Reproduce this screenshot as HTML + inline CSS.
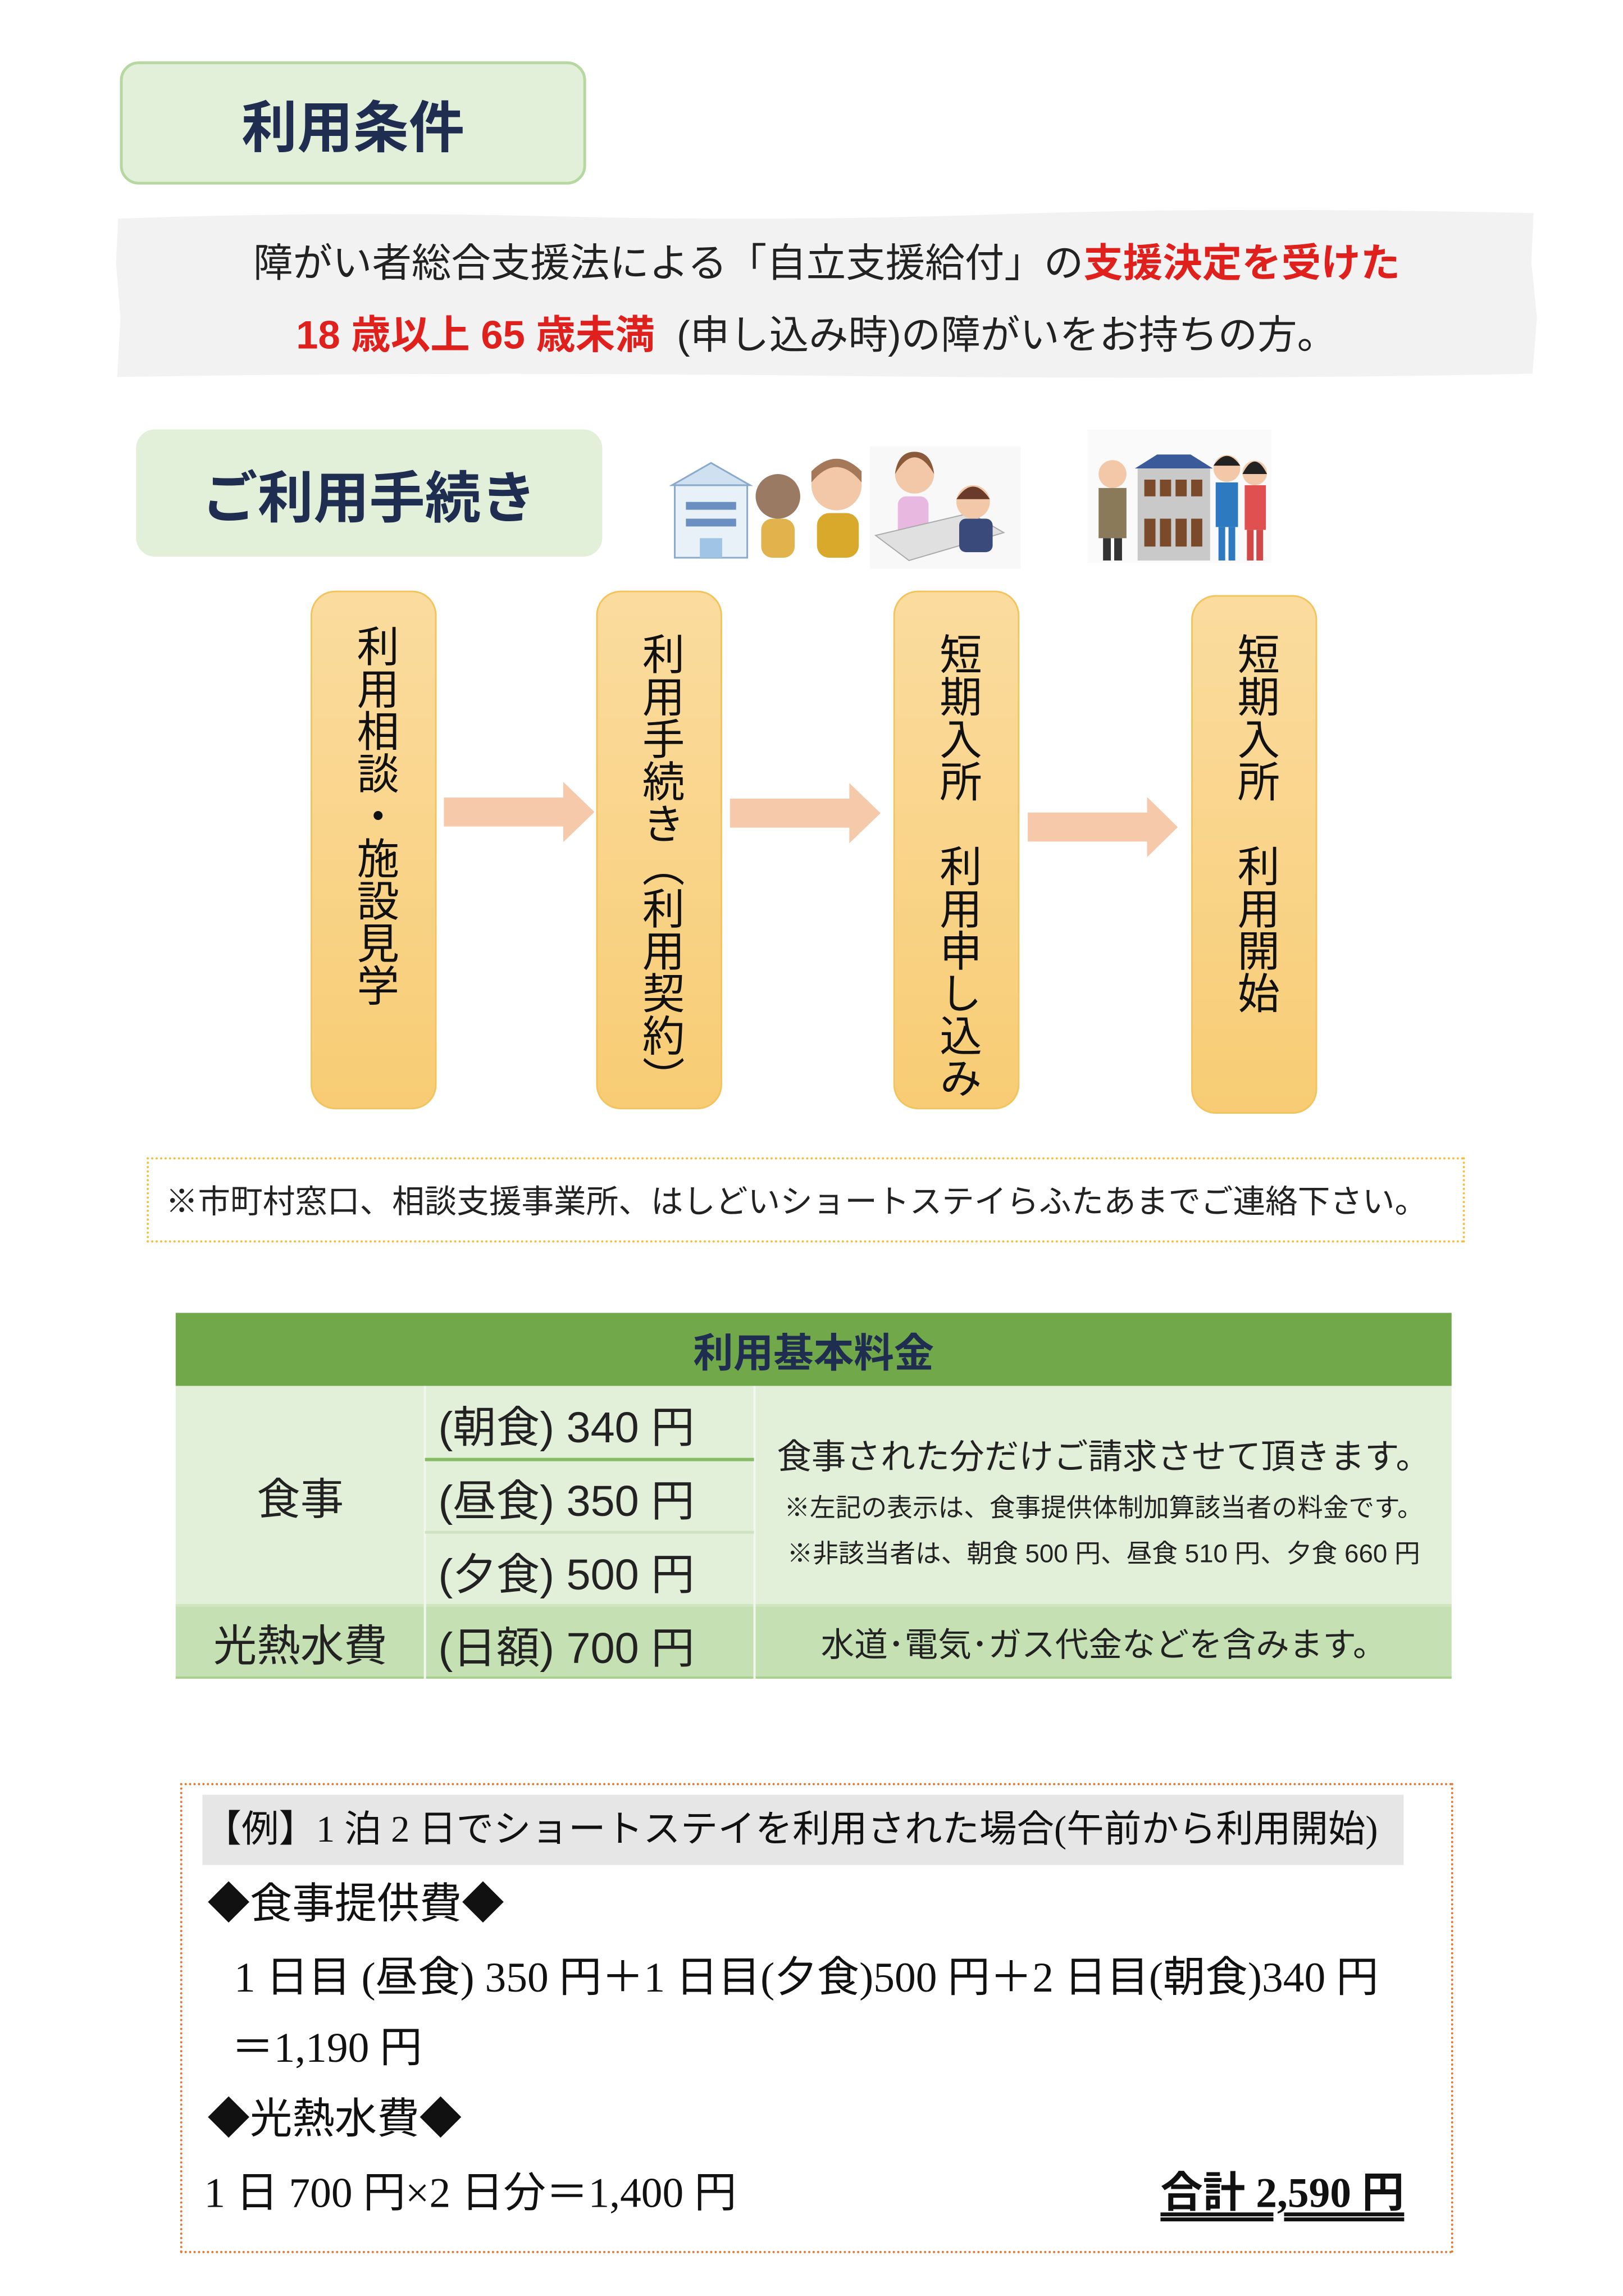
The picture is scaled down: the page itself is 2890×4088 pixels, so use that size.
<!DOCTYPE html>
<html><head><meta charset="utf-8">
<style>
*{margin:0;padding:0;box-sizing:border-box}
body{width:2890px;height:4088px;background:#fff;position:relative;overflow:hidden;font-family:"Liberation Sans","Noto Sans CJK JP",sans-serif;color:#222}
#w{position:absolute;left:0;top:0;width:2890px;height:4088px;transform:scale(0.993);transform-origin:0 0}
.abs{position:absolute}
.c{display:flex;align-items:center;justify-content:center;white-space:nowrap}
.title{background:#e2efd9;border:5px solid #b7d7a0;border-radius:34px;color:#1f2d50;font-weight:bold}
.flow{background:linear-gradient(#fbdc9f,#f7cc74);border:3px solid #f3c45e;border-radius:44px;display:flex;flex-direction:column;align-items:center}
.flow span{writing-mode:vertical-rl;font-size:76px;line-height:1;color:#111;white-space:nowrap}
.cell{position:absolute;display:flex;align-items:center;justify-content:center;white-space:nowrap;color:#222}
.ex{position:absolute;white-space:nowrap;font-family:"Liberation Serif","Noto Sans CJK JP",serif;font-size:76px;color:#111;line-height:1}
</style></head><body><div id="w">

<div class="abs c title" style="left:215px;top:110px;width:836px;height:221px;font-size:100px">利用条件</div>

<svg class="abs" style="left:200px;top:370px" width="2570" height="320">
<path d="M12 22 Q400 8 800 18 T1600 14 T2550 12 L2546 100 L2556 200 L2548 300 Q2000 312 1300 304 T10 306 L16 200 L8 100 Z" fill="#f2f2f2"/>
</svg>
<div class="abs" style="left:454px;top:433px;font-size:71px;white-space:nowrap;line-height:80px;color:#222">障がい者総合支援法による「自立支援給付」の<b style="color:#e0201c">支援決定を受けた</b></div>
<div class="abs" style="left:531px;top:562px;font-size:71px;white-space:nowrap;line-height:80px;color:#222"><b style="color:#e0201c">18 歳以上 65 歳未満</b>&nbsp;&nbsp;(申し込み時)の障がいをお持ちの方。</div>

<div class="abs c title" style="left:244px;top:770px;width:836px;height:228px;font-size:100px;border-color:#e2efd9">ご利用手続き</div>

<svg class="abs" style="left:1200px;top:770px" width="1100" height="250">
<rect x="10" y="100" width="130" height="130" fill="#e8f0f8" stroke="#8aaacc" stroke-width="3"/>
<polygon points="5,100 75,60 145,100" fill="#cfe0f0" stroke="#8aaacc" stroke-width="3"/>
<rect x="30" y="130" width="90" height="14" fill="#6a8fc0"/><rect x="30" y="160" width="90" height="14" fill="#6a8fc0"/><rect x="55" y="195" width="40" height="35" fill="#9fc4e6"/>
<circle cx="195" cy="120" r="40" fill="#9a7a62"/><rect x="165" y="160" width="60" height="70" rx="20" fill="#e2b24c"/>
<circle cx="300" cy="100" r="45" fill="#f2c8a8"/><path d="M255 95 Q300 40 345 95 L345 75 Q300 30 255 75Z" fill="#a5785a"/><rect x="265" y="150" width="75" height="80" rx="22" fill="#d9a92c"/>
<rect x="360" y="30" width="270" height="220" fill="#f8f8f8"/>
<circle cx="440" cy="80" r="35" fill="#f2c8a8"/><path d="M405 80 Q440 20 475 80 Q470 40 440 40 Q410 40 405 80Z" fill="#8a5a3a"/><rect x="410" y="120" width="55" height="80" rx="15" fill="#e8b8e0"/>
<polygon points="370,190 540,150 600,185 430,235" fill="#e0e0e0" stroke="#aaa" stroke-width="2"/>
<circle cx="545" cy="130" r="30" fill="#f2c8a8"/><path d="M515 125 Q545 80 575 125" fill="#6a3a2a"/><rect x="520" y="160" width="60" height="60" rx="12" fill="#3a4a7a"/>
<rect x="750" y="0" width="330" height="240" fill="#fafafa"/>
<circle cx="795" cy="80" r="25" fill="#f2c8a8"/><rect x="770" y="105" width="50" height="90" fill="#8a7a5a"/><rect x="778" y="195" width="14" height="40" fill="#333"/><rect x="798" y="195" width="14" height="40" fill="#333"/>
<polygon points="835,70 875,45 935,45 975,70" fill="#3a5a9a"/><rect x="840" y="70" width="130" height="165" fill="#c9c9c9"/>
<rect x="852" y="90" width="20" height="30" fill="#7a4a2a"/><rect x="880" y="90" width="20" height="30" fill="#7a4a2a"/><rect x="908" y="90" width="20" height="30" fill="#7a4a2a"/><rect x="936" y="90" width="20" height="30" fill="#7a4a2a"/>
<rect x="852" y="160" width="20" height="50" fill="#7a4a2a"/><rect x="880" y="160" width="20" height="50" fill="#7a4a2a"/><rect x="908" y="160" width="20" height="50" fill="#7a4a2a"/><rect x="936" y="160" width="20" height="50" fill="#7a4a2a"/>
<circle cx="1000" cy="70" r="24" fill="#f2c8a8"/><path d="M976 65 Q1000 30 1024 65" fill="#222"/><rect x="980" y="95" width="40" height="80" fill="#2e7ac0"/><rect x="985" y="175" width="12" height="60" fill="#2e7ac0"/><rect x="1003" y="175" width="12" height="60" fill="#2e7ac0"/>
<circle cx="1050" cy="78" r="22" fill="#f2c8a8"/><path d="M1028 80 Q1050 35 1072 80" fill="#222"/><rect x="1032" y="100" width="38" height="80" fill="#e05050"/><rect x="1036" y="180" width="12" height="55" fill="#d04848"/><rect x="1053" y="180" width="12" height="55" fill="#d04848"/>
</svg>

<div class="abs flow" style="left:557px;top:1059px;width:226px;height:930px;padding-top:58px"><span>利用相談・施設見学</span></div>
<div class="abs flow" style="left:1069px;top:1059px;width:226px;height:930px;padding-top:72px"><span>利用手続き（利用契約）</span></div>
<div class="abs flow" style="left:1602px;top:1059px;width:226px;height:930px;padding-top:72px"><span>短期入所　利用申し込み</span></div>
<div class="abs flow" style="left:2136px;top:1067px;width:226px;height:930px;padding-top:64px"><span>短期入所　利用開始</span></div>

<svg class="abs" style="left:0;top:0" width="2890" height="2000">
<polygon points="796,1430 1010,1430 1010,1402 1066,1456 1010,1510 1010,1482 796,1482" fill="#f5c9aa"/>
<polygon points="1309,1432 1523,1432 1523,1404 1579,1458 1523,1512 1523,1484 1309,1484" fill="#f5c9aa"/>
<polygon points="1843,1457 2057,1457 2057,1429 2112,1483 2057,1537 2057,1509 1843,1509" fill="#f5c9aa"/>
</svg>

<div class="abs" style="left:263px;top:2075px;width:2364px;height:153px;border:4px dotted #f0c040"></div>
<div class="abs" style="left:297px;top:2120px;font-size:58px;white-space:nowrap;line-height:70px;color:#222">※市町村窓口、相談支援事業所、はしどいショートステイらふたあまでご連絡下さい。</div>

<div class="cell" style="left:315px;top:2354px;width:2288px;height:131px;background:#70a84a;color:#1f2d50;font-weight:bold;font-size:72px">利用基本料金</div>
<div class="abs" style="left:315px;top:2485px;width:2288px;height:394px;background:#e2efd9"></div>
<div class="abs" style="left:315px;top:2879px;width:2288px;height:131px;background:#c5e0b3"></div>
<div class="abs" style="left:315px;top:3006px;width:2288px;height:4px;background:#a9d18e"></div>
<div class="abs" style="left:315px;top:2876px;width:2288px;height:5px;background:#d0e6c0"></div>
<div class="abs" style="left:760px;top:2485px;width:4px;height:525px;background:#f2f7ee"></div>
<div class="abs" style="left:1351px;top:2485px;width:4px;height:525px;background:#f2f7ee"></div>
<div class="abs" style="left:762px;top:2614px;width:590px;height:6px;background:#88bb66"></div>
<div class="abs" style="left:762px;top:2745px;width:590px;height:5px;background:#cfe3c0"></div>
<div class="cell" style="left:315px;top:2485px;width:447px;height:394px;font-size:78px">食事</div>
<div class="cell" style="left:315px;top:2879px;width:447px;height:131px;font-size:78px">光熱水費</div>
<div class="cell" style="left:762px;top:2488px;width:590px;height:130px;font-size:78px;justify-content:flex-start;padding-left:24px">(朝食) 340 円</div>
<div class="cell" style="left:762px;top:2620px;width:590px;height:130px;font-size:78px;justify-content:flex-start;padding-left:24px">(昼食) 350 円</div>
<div class="cell" style="left:762px;top:2752px;width:590px;height:130px;font-size:78px;justify-content:flex-start;padding-left:24px">(夕食) 500 円</div>
<div class="cell" style="left:762px;top:2884px;width:590px;height:130px;font-size:78px;justify-content:flex-start;padding-left:24px">(日額) 700 円</div>
<div class="cell" style="left:1355px;top:2566px;width:1248px;height:80px;font-size:62px">食事された分だけご請求させて頂きます。</div>
<div class="cell" style="left:1355px;top:2672px;width:1248px;height:56px;font-size:46px">※左記の表示は、食事提供体制加算該当者の料金です。</div>
<div class="cell" style="left:1355px;top:2754px;width:1248px;height:56px;font-size:46px">※非該当者は、朝食 500 円、昼食 510 円、夕食 660 円</div>
<div class="cell" style="left:1355px;top:2904px;width:1248px;height:80px;font-size:60px">水道･電気･ガス代金などを含みます。</div>

<div class="abs" style="left:323px;top:3197px;width:2283px;height:843px;border:4px dotted #e07a30"></div>
<div class="abs" style="left:363px;top:3218px;width:2154px;height:126px;background:#e6e6e6"></div>
<div class="ex" style="left:366px;top:3247px;font-size:67px">【例】1 泊 2 日でショートステイを利用された場合(午前から利用開始)</div>
<div class="ex" style="left:372px;top:3376px">◆食事提供費◆</div>
<div class="ex" style="left:420px;top:3508px">1 日目 (昼食) 350 円＋1 日目(夕食)500 円＋2 日目(朝食)340 円</div>
<div class="ex" style="left:415px;top:3634px">＝1,190 円</div>
<div class="ex" style="left:372px;top:3762px">◆光熱水費◆</div>
<div class="ex" style="left:366px;top:3894px">1 日 700 円×2 日分＝1,400 円</div>
<div class="ex" style="left:2081px;top:3894px;font-weight:bold;text-decoration:underline double;text-underline-offset:10px">合計 2,590 円</div>

</div></body></html>
